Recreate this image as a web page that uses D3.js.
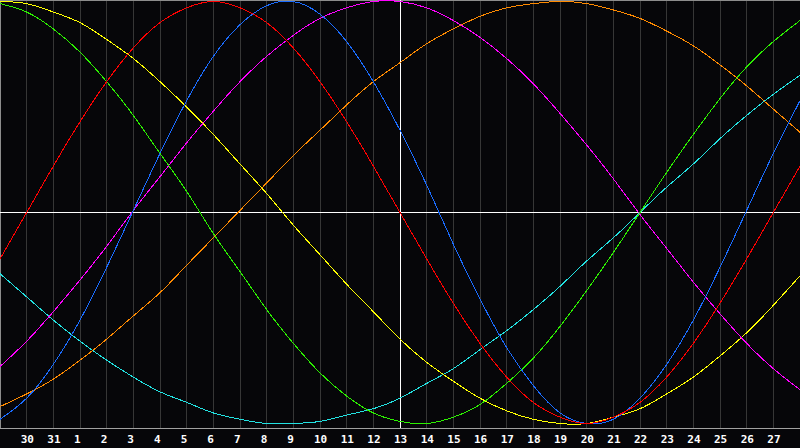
<!DOCTYPE html>
<html>
<head>
<meta charset="utf-8">
<script src="https://cdn.jsdelivr.net/npm/d3@7/dist/d3.min.js"></script>
<style>
  html, body { margin: 0; padding: 0; background: #060609; }
  svg { display: block; }
</style>
</head>
<body>
<div id="drawArea"></div>
<script>
// day labels, one per sample (first and last fall on the chart edges)
var days = ["29", "30", "31", "1", "2", "3", "4", "5", "6", "7", "8", "9", "10", "11", "12",
            "13", "14", "15", "16", "17", "18", "19", "20", "21", "22", "23", "24", "25", "26", "27", "28"];
var todayIndex = 15; // "13"

// values, -1 .. 1, one per day
var physical = [-0.98, -0.88, -0.72, -0.51, -0.26, 0.01, 0.28, 0.53, 0.74, 0.89, 0.98, 1.00, 0.94, 0.81, 0.62, 0.39,
                0.13, -0.15, -0.41, -0.64, -0.82, -0.95, -1.00, -0.98, -0.88, -0.72, -0.51, -0.26, 0.01, 0.28, 0.53];
var emotional = [-0.22, 0.00, 0.22, 0.43, 0.62, 0.78, 0.90, 0.97, 1.00, 0.97, 0.90, 0.78, 0.62, 0.43, 0.22, 0.00,
                 -0.22, -0.43, -0.62, -0.78, -0.90, -0.97, -1.00, -0.97, -0.90, -0.78, -0.62, -0.43, -0.22, 0.00, 0.22];
var intellectual = [0.99, 0.95, 0.87, 0.76, 0.62, 0.46, 0.28, 0.10, -0.10, -0.28, -0.46, -0.62, -0.76, -0.87, -0.95, -0.99,
                    -1.00, -0.97, -0.91, -0.81, -0.69, -0.54, -0.37, -0.19, 0.00, 0.19, 0.37, 0.54, 0.69, 0.81, 0.91];
var intuitive = [-0.73, -0.61, -0.47, -0.32, -0.16, 0.01, 0.17, 0.33, 0.48, 0.62, 0.74, 0.84, 0.92, 0.97, 1.00, 1.00,
                 0.97, 0.91, 0.83, 0.73, 0.61, 0.47, 0.32, 0.16, -0.01, -0.17, -0.33, -0.48, -0.62, -0.74, -0.84];
var aesthetic = [1.00, 0.99, 0.95, 0.90, 0.82, 0.73, 0.62, 0.50, 0.37, 0.23, 0.09, -0.06, -0.20, -0.34, -0.47, -0.60,
                 -0.71, -0.80, -0.88, -0.94, -0.98, -1.00, -1.00, -0.97, -0.93, -0.86, -0.78, -0.68, -0.57, -0.44, -0.30];
var awareness = [-0.92, -0.86, -0.79, -0.70, -0.60, -0.49, -0.38, -0.25, -0.12, 0.01, 0.14, 0.27, 0.39, 0.51, 0.62, 0.71,
                 0.80, 0.87, 0.93, 0.97, 0.99, 1.00, 0.99, 0.96, 0.92, 0.86, 0.79, 0.70, 0.60, 0.49, 0.38];
var spiritual = [-0.29, -0.40, -0.51, -0.61, -0.70, -0.78, -0.85, -0.90, -0.95, -0.98, -1.00, -1.00, -0.99, -0.96, -0.93, -0.88,
                 -0.81, -0.74, -0.65, -0.56, -0.46, -0.35, -0.23, -0.12, 0.00, 0.12, 0.23, 0.35, 0.46, 0.56, 0.65];

var seriesNames = ["spiritual", "awareness", "aesthetic", "intuitive", "intellectual", "physical", "emotional"];
var seriesValues = [spiritual, awareness, aesthetic, intuitive, intellectual, physical, emotional];
var seriesColors = ["#22e2e2", "#ff8a00", "#ffff00", "#ff00ff", "#2cf000", "#1a6cff", "#ff0000"];

var svg_width = 800;
var svg_height = 448;
var plotBottom = 428;

var svg = d3.select("#drawArea").append("svg")
  .attr("width", svg_width)
  .attr("height", svg_height);

svg.append("rect")
  .attr("width", svg_width)
  .attr("height", svg_height)
  .attr("fill", "#060609");

var x = d3.scaleLinear().domain([0, days.length - 1]).range([0, svg_width]);
var y = d3.scaleLinear().domain([-1, 1]).range([423.5, 1.5]);

// day grid
svg.selectAll("line.grid")
  .data(d3.range(1, days.length - 1))
  .enter()
  .append("line")
    .classed("grid", true)
    .attr("x1", function(d) { return Math.floor(x(d)) + 0.5; })
    .attr("x2", function(d) { return Math.floor(x(d)) + 0.5; })
    .attr("y1", 0)
    .attr("y2", plotBottom)
    .attr("stroke", "#363636")
    .attr("stroke-width", 1);

// frame
svg.append("line")
  .attr("x1", 0).attr("x2", svg_width)
  .attr("y1", 0.5).attr("y2", 0.5)
  .attr("stroke", "#8c8c8c");
svg.append("line")
  .attr("x1", 0.5).attr("x2", 0.5)
  .attr("y1", 0).attr("y2", plotBottom)
  .attr("stroke", "#8c8c8c");
svg.append("line")
  .attr("x1", 0).attr("x2", svg_width)
  .attr("y1", plotBottom + 0.5).attr("y2", plotBottom + 0.5)
  .attr("stroke", "#a0a0a0");

// zero line and today marker
svg.append("line")
  .attr("x1", 0).attr("x2", svg_width)
  .attr("y1", Math.floor(y(0)) + 0.5).attr("y2", Math.floor(y(0)) + 0.5)
  .attr("stroke", "#ffffff");
svg.append("line")
  .attr("x1", Math.floor(x(todayIndex)) + 0.5).attr("x2", Math.floor(x(todayIndex)) + 0.5)
  .attr("y1", 0).attr("y2", plotBottom)
  .attr("stroke", "#ffffff");

var line = d3.line()
  .x(function(d, i) { return x(i); })
  .y(function(d) { return y(d); })
  .curve(d3.curveNatural);

svg.selectAll("path.cycle")
  .data(seriesValues)
  .enter()
  .append("path")
    .classed("cycle", true)
    .attr("d", line)
    .attr("fill", "none")
    .attr("stroke", function(d, i) { return seriesColors[i]; })
    .attr("stroke-width", 1)
    .attr("shape-rendering", "crispEdges");

// day labels
var axis = d3.axisBottom(x)
  .tickValues(d3.range(1, days.length - 1))
  .tickFormat(function(i) { return days[i]; })
  .tickSize(0);

var g = svg.append("g")
  .attr("transform", "translate(0," + plotBottom + ")")
  .call(axis);
g.select(".domain").remove();
g.selectAll("text")
  .attr("x", -6.5)
  .attr("y", 7)
  .attr("text-anchor", "start")
  .attr("fill", "#ffffff")
  .attr("font-family", "'DejaVu Sans Mono', monospace")
  .attr("font-weight", "bold")
  .attr("font-size", 11);
</script>
</body>
</html>
